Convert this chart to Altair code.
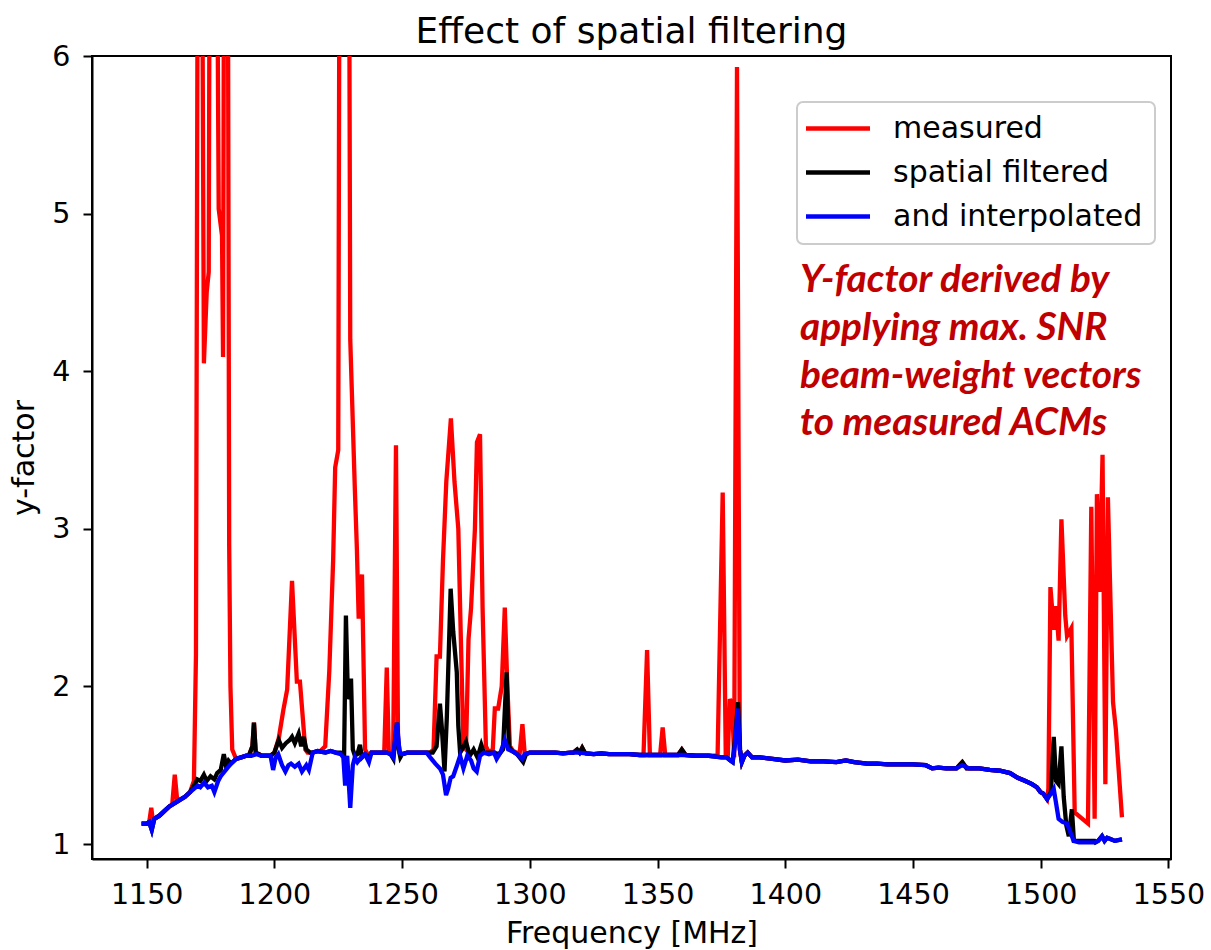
import altair as alt
import pandas as pd

# ---- blue: spatial filtered and interpolated (baseline) ----
blue_freq = [1148, 1150, 1151, 1152, 1153, 1155, 1157, 1159, 1161, 1163, 1165, 1167, 1168.5, 1170,
             1171, 1172.5, 1174, 1175.5, 1176.5, 1178, 1179, 1181, 1183, 1185, 1187, 1189, 1191,
             1193, 1195, 1197, 1198.5, 1199.5, 1200.5, 1201.5, 1203, 1204.3, 1205.5, 1206.5, 1208,
             1209.5, 1210.8, 1212.5, 1213.5, 1215, 1217, 1220, 1222, 1224, 1226, 1227, 1227.7,
             1228.5, 1229.7, 1230.7, 1231.5, 1232.5, 1234, 1235.5, 1237, 1238, 1240, 1242, 1244,
             1245.5, 1246.5, 1247.5, 1248, 1249, 1250, 1252, 1254, 1256, 1258, 1259.6, 1261, 1263,
             1264.8, 1266, 1267.2, 1268, 1269, 1270, 1271.5, 1272.7, 1274, 1275.5, 1277, 1278,
             1279.2, 1280.5, 1282, 1284, 1286, 1287, 1288.5, 1290.2, 1291.5, 1293, 1295, 1297,
             1298, 1300, 1303, 1306, 1310, 1313, 1316, 1319, 1322, 1325, 1328, 1331, 1335, 1339,
             1343, 1346, 1350, 1355, 1360, 1365, 1370, 1375, 1377, 1378.5, 1379.4, 1380.5, 1381.4,
             1382.2, 1383, 1384, 1385.3, 1387, 1390, 1395, 1400, 1405, 1410, 1415, 1420, 1423.7,
             1427, 1432, 1436, 1440, 1445, 1450, 1455, 1457.5, 1460, 1463, 1467, 1469.3, 1472,
             1476, 1480, 1484, 1488, 1491, 1494, 1496.6, 1498.5, 1499.9, 1501, 1502.5, 1504,
             1505.1, 1506, 1507, 1508.5, 1510.3, 1511.5, 1512.9, 1515, 1518, 1521.4, 1522.5, 1524,
             1525, 1526, 1527.5, 1529, 1531.8]
blue_val = [1.13, 1.13, 1.14, 1.09, 1.16, 1.18, 1.21, 1.24, 1.26, 1.28, 1.30, 1.33, 1.35, 1.37,
            1.36, 1.39, 1.36, 1.37, 1.33, 1.40, 1.43, 1.47, 1.51, 1.54, 1.55, 1.56, 1.56,
            1.57, 1.56, 1.56, 1.56, 1.47, 1.55, 1.57, 1.50, 1.46, 1.50, 1.51, 1.49,
            1.51, 1.46, 1.50, 1.47, 1.58, 1.59, 1.58, 1.59, 1.58, 1.57, 1.55, 1.37,
            1.56, 1.23, 1.50, 1.55, 1.52, 1.55, 1.57, 1.52, 1.58, 1.58, 1.58, 1.58,
            1.57, 1.55, 1.70, 1.77, 1.58, 1.57, 1.58, 1.58, 1.58, 1.58, 1.58, 1.55, 1.51,
            1.48, 1.44, 1.31, 1.35, 1.42, 1.43, 1.50, 1.56, 1.48, 1.56, 1.53, 1.48,
            1.46, 1.56, 1.58, 1.57, 1.58, 1.54, 1.58, 1.66, 1.60, 1.59, 1.57, 1.54,
            1.57, 1.58, 1.58, 1.58, 1.58, 1.575, 1.58, 1.58, 1.575, 1.57, 1.575, 1.57, 1.57, 1.57,
            1.565, 1.565, 1.565, 1.565, 1.565, 1.56, 1.56, 1.55, 1.55, 1.53, 1.52, 1.65, 1.86,
            1.60, 1.52, 1.56, 1.58, 1.55, 1.55, 1.54, 1.53, 1.535, 1.525, 1.525, 1.52, 1.53,
            1.52, 1.51, 1.51, 1.505, 1.505, 1.505, 1.50, 1.48, 1.485, 1.48, 1.48, 1.50, 1.48,
            1.48, 1.47, 1.465, 1.45, 1.42, 1.40, 1.38, 1.36, 1.33, 1.32, 1.285, 1.32,
            1.35, 1.26, 1.16, 1.14, 1.13, 1.08, 1.02, 1.01, 1.01, 1.01, 1.02, 1.05,
            1.02, 1.04, 1.03, 1.02, 1.03]

# ---- black: spatial filtered (pieces where it departs from blue) ----
black_patches = [
    [(1167, 1.33), (1168.5, 1.37), (1169.8, 1.41), (1171, 1.40), (1172.4, 1.44), (1173.5, 1.40),
     (1175, 1.43), (1176.5, 1.41), (1177.6, 1.45), (1179, 1.47), (1180.2, 1.57), (1181, 1.50),
     (1182, 1.53), (1183, 1.51), (1185, 1.54)],
    [(1190, 1.56), (1191.4, 1.62), (1192, 1.77), (1192.7, 1.58), (1194, 1.57)],
    [(1198.5, 1.56), (1200, 1.58), (1201.7, 1.66), (1203, 1.61), (1204.5, 1.64), (1206, 1.66),
     (1206.9, 1.68), (1208, 1.64), (1209.5, 1.70), (1210.5, 1.62), (1211.5, 1.68), (1212.5, 1.60),
     (1214, 1.58), (1215, 1.58)],
    [(1224, 1.58), (1226, 1.58), (1227.3, 1.57), (1228, 2.45), (1228.8, 1.92), (1229.4, 1.95),
     (1230, 2.05), (1230.7, 1.60), (1231.5, 1.56), (1232.5, 1.57), (1233.5, 1.63), (1234.3, 1.55),
     (1235.5, 1.57), (1237, 1.55), (1238, 1.58)],
    [(1245.5, 1.57), (1246.6, 1.54), (1247.5, 1.70), (1248, 1.77), (1248.7, 1.60), (1249.3, 1.55),
     (1250, 1.57)],
    [(1259.6, 1.58), (1262, 1.58), (1263.5, 1.62), (1264.8, 1.89), (1265.5, 1.75), (1266.6, 1.46),
     (1267.5, 1.80), (1269, 2.62), (1270, 2.35), (1271.4, 2.09), (1272, 1.75), (1272.7, 1.58),
     (1273.5, 1.60), (1275, 1.65), (1276.5, 1.56), (1278, 1.60), (1279.5, 1.55), (1281, 1.63),
     (1282, 1.58), (1284, 1.58), (1286, 1.58), (1288, 1.57), (1289.5, 1.60), (1290.9, 2.09),
     (1291.8, 1.62), (1293, 1.59), (1295, 1.57), (1297.4, 1.52), (1298.5, 1.57), (1300, 1.58)],
    [(1317, 1.58), (1318.5, 1.60), (1319.5, 1.58), (1320.5, 1.61), (1321.5, 1.58)],
    [(1358, 1.565), (1359.5, 1.60), (1361, 1.565)],
    [(1378.5, 1.53), (1379.4, 1.52), (1380.5, 1.70), (1381.5, 1.90), (1382.3, 1.60), (1383, 1.52),
     (1384, 1.56)],
    [(1467, 1.48), (1469.3, 1.52), (1471, 1.48)],
    [(1502.5, 1.285), (1504, 1.33), (1505.1, 1.68), (1506, 1.40), (1507, 1.38), (1508.1, 1.62),
     (1509, 1.30), (1510, 1.12), (1511, 1.05), (1512.2, 1.22), (1513, 1.02), (1515, 1.02),
     (1518, 1.02), (1521, 1.02)],
]

# ---- red: measured (pieces where it departs from black) ----
red_patches = [
    [(1151, 1.14), (1151.8, 1.23), (1152.5, 1.14)],
    [(1160, 1.25), (1161, 1.44), (1162, 1.27)],
    [(1167, 1.33), (1168.5, 1.40), (1169.3, 2.2), (1170.3, 9.0), (1171.2, 9.0), (1172.4, 4.05),
     (1173.5, 4.5), (1174.3, 4.63), (1175, 9.0), (1176.3, 9.0), (1177.5, 7.0), (1178.2, 5.03),
     (1179.5, 4.86), (1179.9, 4.09), (1180.6, 9.0), (1181.5, 9.0), (1182.3, 2.9), (1182.8, 2.0),
     (1183.5, 1.6), (1184.5, 1.56), (1185, 1.54)],
    [(1200, 1.58), (1201.7, 1.67), (1203.5, 1.85), (1205, 1.98), (1206.9, 2.67), (1208.8, 2.03),
     (1210, 2.03), (1212.1, 1.60), (1213, 1.58)],
    [(1218, 1.59), (1219.9, 1.62), (1221.5, 2.1), (1223, 2.8), (1223.8, 3.39), (1225, 3.5),
     (1225.8, 9.0), (1227.5, 9.0), (1229.3, 6.5), (1229.7, 4.2), (1231.5, 3.25), (1232.3, 2.87),
     (1233, 2.43), (1234.3, 2.71), (1235.5, 1.60), (1236.5, 1.57)],
    [(1243, 1.58), (1244, 2.12), (1244.8, 1.58), (1246.5, 1.58), (1247.6, 3.53), (1248.4, 1.65),
     (1249.3, 1.58)],
    [(1261, 1.58), (1262.3, 1.60), (1263.5, 2.19), (1264.8, 2.19), (1266, 2.8), (1267.3, 3.3),
     (1269.1, 3.70), (1270.5, 3.3), (1272, 3.0), (1273, 2.3), (1274, 1.62), (1275, 1.60),
     (1276, 2.3), (1277, 2.5), (1278.5, 3.0), (1279.3, 3.55), (1280.5, 3.6), (1281.5, 2.5),
     (1282.8, 1.62), (1284, 1.58), (1285.5, 1.60), (1286.3, 1.86), (1287.6, 1.86), (1289, 2.0),
     (1290.2, 2.50), (1291.2, 2.0), (1292.2, 1.62), (1293.5, 1.59), (1296, 1.57), (1297.1, 1.76),
     (1298, 1.57), (1300, 1.58)],
    [(1344.5, 1.565), (1345.9, 2.23), (1347, 1.565), (1351, 1.565), (1352, 1.74), (1353, 1.565)],
    [(1372.5, 1.56), (1373.5, 1.56), (1375.5, 3.23), (1376.7, 1.56), (1377.5, 1.56), (1378.3, 1.92),
     (1379.2, 1.88), (1380, 1.55), (1381.1, 5.93), (1382.2, 1.60), (1383, 1.52)],
    [(1502.5, 1.285), (1503, 1.35), (1503.8, 2.63), (1505.1, 2.36), (1506, 2.51), (1507, 2.29),
     (1508.1, 3.06), (1509.6, 2.45), (1510.3, 2.32), (1512, 2.37), (1513.3, 1.20), (1518.5, 1.13),
     (1519.8, 3.14), (1521.1, 1.16), (1522, 3.22), (1523, 2.60), (1524.2, 3.47), (1525.3, 1.38),
     (1526.3, 3.20), (1528.3, 1.90), (1529.4, 1.73), (1531.8, 1.17)],
]

series_names = ["measured", "spatial filtered", "and interpolated"]
series_colors = ["#ff0000", "#000000", "#0000ff"]
x_ticks = [1150, 1200, 1250, 1300, 1350, 1400, 1450, 1500, 1550]
y_ticks = [1, 2, 3, 4, 5, 6]
note_lines = ["Y-factor derived by", "applying max. SNR", "beam-weight vectors", "to measured ACMs"]


def merge(base, patches):
    pts = dict(base)
    for patch in patches:
        lo, hi = patch[0][0], patch[-1][0]
        pts = {f: v for f, v in pts.items() if not (lo <= f <= hi)}
        pts.update(dict(patch))
    return sorted(pts.items())


blue_pts = list(zip(blue_freq, blue_val))
black_pts = merge(blue_pts, black_patches)
red_pts = merge(black_pts, red_patches)

rows = []
for name, pts in zip(series_names, [red_pts, black_pts, blue_pts]):
    for f, v in pts:
        rows.append({"freq": f, "yf": v, "series": name})
df = pd.DataFrame(rows)

FONT = "DejaVu Sans"
LW = 4.3

xscale = alt.Scale(domain=[1128.6, 1551], nice=False, zero=False)
yscale = alt.Scale(domain=[0.905, 6], nice=False, zero=False)

base = alt.Chart(df).mark_line(strokeWidth=LW, clip=True).encode(
    x=alt.X("freq:Q", scale=xscale,
            axis=alt.Axis(values=x_ticks, title="Frequency [MHz]", format="d", labelPadding=12,
                          titlePadding=10)),
    y=alt.Y("yf:Q", scale=yscale,
            axis=alt.Axis(values=y_ticks, title="y-factor", format="d", labelPadding=13,
                          titlePadding=12)),
)

layers = [base.transform_filter(alt.datum.series == s).mark_line(
    strokeWidth=LW, clip=True, color=c) for s, c in zip(series_names, series_colors)]

one = pd.DataFrame({"k": [0]})

# legend box (drawn like matplotlib's legend frame)
legend_layers = [alt.Chart(one).mark_rect(
    fill="white", fillOpacity=0.8, stroke="#cccccc", strokeWidth=2, cornerRadius=6,
).encode(x=alt.value(705), x2=alt.value(1063), y=alt.value(46), y2=alt.value(188))]
for i, (s, c) in enumerate(zip(series_names, series_colors)):
    yy = 72.5 + 44 * i
    legend_layers.append(alt.Chart(one).mark_rule(color=c, strokeWidth=LW).encode(
        x=alt.value(714), x2=alt.value(778), y=alt.value(yy)))
    legend_layers.append(alt.Chart(one).mark_text(
        text=s, font=FONT, fontSize=30, color="black", align="left", baseline="middle",
    ).encode(x=alt.value(801), y=alt.value(yy)))

note = alt.Chart(one).mark_text(
    text=note_lines, font="Lato", fontSize=38.8, fontWeight="bold", fontStyle="italic",
    color="#c00000", align="left", baseline="alphabetic", lineHeight=47.8,
).encode(x=alt.value(708), y=alt.value(236))

chart = alt.layer(*layers, *legend_layers, note).properties(
    width=1079, height=803,
    title=alt.TitleParams("Effect of spatial filtering", font=FONT, fontSize=36,
                          fontWeight="normal", color="black", anchor="middle", offset=-9,
                          frame="group"),
    autosize=alt.AutoSizeParams(type="none"),
    padding={"left": 92, "top": 56, "right": 40, "bottom": 91},
).configure_view(stroke="black", strokeWidth=2).configure_axis(
    labelFont=FONT, labelFontSize=28.5, labelColor="black",
    titleFont=FONT, titleFontSize=30, titleFontWeight="normal", titleColor="black",
    domainColor="black", domainWidth=2, tickColor="black", tickWidth=2, tickSize=9,
    grid=False,
)

chart.save("out.html", embed_options={"renderer": "svg", "actions": False})
